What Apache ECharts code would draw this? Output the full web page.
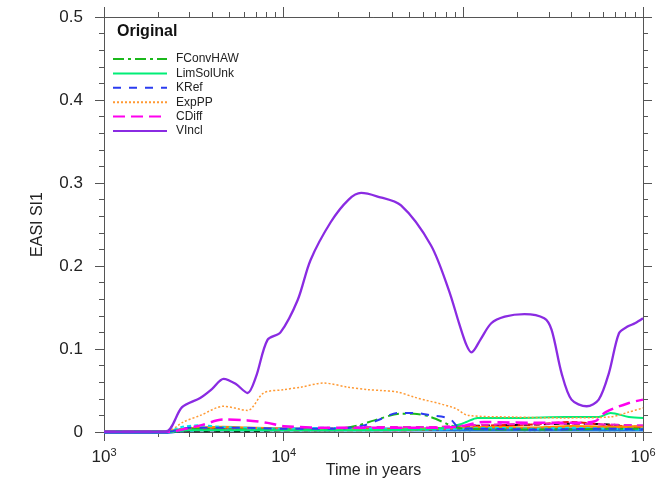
<!DOCTYPE html>
<html lang="en">
<head>
    <meta charset="UTF-8">
    <title>EASI SI1</title>
    <script src="https://cdn.jsdelivr.net/npm/echarts@6/dist/echarts.min.js"></script>
    <style>
        body { margin: 0; background: #fff; }
    </style>
</head>
<body>
    <div id="main" style="width: 658px;height: 484px;"></div>
    <script>
        // time axis (years), log scale
        let decadeTicks = [1e3, 1e4, 1e5, 1e6];
        let minorTicks = [];
        [1e3, 1e4, 1e5].forEach(d => { for (let k = 2; k < 10; k++) minorTicks.push(k * d); });

        // main series, [time, value]
        let vinclT = [1000, 2190, 2720, 3430, 4000, 4630, 5400, 6300, 7000, 8130, 9600, 11970, 14100, 18300, 23000, 27000, 33000, 45000, 66000, 83000, 95000, 104000, 111000, 125000, 143000, 170000, 219000, 282000, 310000, 352000, 400000, 486000, 567000, 646000, 735000, 820000, 902000, 1000000];
        let vinclV = [0, 0, 0.030, 0.041, 0.052, 0.064, 0.058, 0.047, 0.066, 0.111, 0.120, 0.159, 0.207, 0.253, 0.280, 0.288, 0.284, 0.273, 0.225, 0.171, 0.130, 0.105, 0.096, 0.112, 0.131, 0.139, 0.142, 0.137, 0.123, 0.071, 0.039, 0.031, 0.039, 0.071, 0.119, 0.127, 0.131, 0.137];

        let exppT = [1000, 2200, 2761, 3437, 4624, 6295, 7730, 10000, 12450, 16720, 22790, 29450, 34830, 43350, 53240, 89100, 106600, 192700, 352600, 645600, 835000, 1000000];
        let exppV = [0, 0, 0.012, 0.020, 0.031, 0.026, 0.047, 0.051, 0.054, 0.059, 0.054, 0.051, 0.050, 0.048, 0.042, 0.029, 0.020, 0.018, 0.017, 0.018, 0.024, 0.029];

        let fconvT = [1000, 2200, 3000, 5000, 10000, 20000, 26000, 32000, 45000, 53000, 66000, 85000, 100000, 200000, 400000, 700000, 1000000];
        let fconvV = [0, 0, 0.004, 0.003, 0.003, 0.004, 0.008, 0.014, 0.022, 0.022, 0.018, 0.008, 0.004, 0.003, 0.003, 0.004, 0.004];

        let limsolT = [1000, 2200, 3000, 10000, 30000, 60000, 80000, 95000, 104000, 120000, 200000, 370000, 567000, 660000, 835000, 1000000];
        let limsolV = [0, 0, 0.002, 0.002, 0.002, 0.003, 0.005, 0.009, 0.012, 0.017, 0.017, 0.018, 0.018, 0.023, 0.018, 0.017];

        let krefT = [1000, 2200, 3000, 6000, 10000, 20000, 28000, 35000, 43000, 53000, 66000, 84000, 95000, 120000, 300000, 600000, 1000000];
        let krefV = [0, 0, 0.005, 0.005, 0.004, 0.004, 0.008, 0.016, 0.023, 0.023, 0.020, 0.016, 0.005, 0.004, 0.003, 0.004, 0.003];

        let cdiffT = [1000, 2200, 3437, 4624, 6295, 8130, 10000, 20000, 50000, 90000, 130000, 250000, 400000, 540000, 620000, 835000, 1000000];
        let cdiffV = [0, 0, 0.008, 0.015, 0.014, 0.011, 0.007, 0.005, 0.005, 0.006, 0.012, 0.011, 0.011, 0.013, 0.024, 0.035, 0.039];

        // unlabelled near-zero results
        let smallT = [1000, 2200, 2700, 3400, 4600, 6300, 10000, 16700, 29500, 43000, 66000, 100000, 150000, 250000, 400000, 650000, 1000000];
        let cyanV = [0, 0, 0.006, 0.008, 0.006, 0.005, 0.004, 0.005, 0.004, 0.003, 0.003, 0.004, 0.005, 0.004, 0.005, 0.004, 0.003];
        let redV = [0, 0, 0.002, 0.003, 0.004, 0.003, 0.002, 0.002, 0.002, 0.002, 0.003, 0.006, 0.008, 0.009, 0.012, 0.008, 0.006];
        let orangeV = [0, 0, 0.003, 0.005, 0.006, 0.005, 0.004, 0.003, 0.003, 0.003, 0.004, 0.005, 0.006, 0.005, 0.007, 0.006, 0.007];
        let blueV = [0, 0, 0.002, 0.003, 0.003, 0.003, 0.003, 0.003, 0.003, 0.003, 0.003, 0.003, 0.003, 0.003, 0.003, 0.003, 0.003];
        let blackV = [0, 0, 0.001, 0.001, 0.001, 0.001, 0.002, 0.002, 0.003, 0.003, 0.004, 0.007, 0.008, 0.009, 0.010, 0.009, 0.005];
        let greenV = [0, 0, 0.003, 0.002, 0.003, 0.002, 0.003, 0.002, 0.003, 0.002, 0.003, 0.002, 0.003, 0.002, 0.003, 0.002, 0.003];
        let pinkV = [0, 0, 0.002, 0.002, 0.002, 0.003, 0.003, 0.004, 0.006, 0.006, 0.006, 0.008, 0.009, 0.010, 0.010, 0.009, 0.008];

        function zip(t, v) { return t.map((x, i) => [x, v[i]]); }

        let myChart = echarts.init(document.getElementById('main'));
        let font = 'Liberation Sans, Arial, sans-serif';
        let axisLine = { show: true, lineStyle: { color: '#555', width: 1 } };

        function xAx(pos, ticks, len, labels) {
            return {
                type: 'log', logBase: 10, min: 1000, max: 1000000, position: pos,
                gridIndex: 0, axisLine: axisLine, splitLine: { show: false },
                axisTick: { show: true, inside: false, length: len, customValues: ticks, lineStyle: { color: '#555' } },
                axisLabel: labels ? {
                    show: true, customValues: decadeTicks, margin: 15, color: '#222', fontFamily: font, fontSize: 17,
                    formatter: v => '10{s|' + Math.round(Math.log10(v)) + '}',
                    rich: { s: { fontSize: 11, verticalAlign: 'top', padding: [0, 0, 10, 0], fontFamily: font, color: '#222' } }
                } : { show: false }
            };
        }
        function yAx(pos, labels) {
            return {
                type: 'value', min: 0, max: 0.5, interval: 0.1, position: pos,
                axisLine: axisLine, splitLine: { show: false },
                axisTick: { show: true, inside: false, length: 9, lineStyle: { color: '#555' } },
                minorTick: { show: true, splitNumber: 5, length: 5, lineStyle: { color: '#555' } },
                axisLabel: labels ? { show: true, color: '#222', fontFamily: font, fontSize: 17, margin: 21, formatter: v => String(+v.toFixed(1)) } : { show: false }
            };
        }

        let xMain = xAx('bottom', decadeTicks, 9, true);
        xMain.name = 'Time in years';
        xMain.nameLocation = 'middle';
        xMain.nameGap = 31;
        xMain.nameMoveOverlap = false;
        xMain.nameTextStyle = { fontFamily: font, fontSize: 16, color: '#222' };
        let yMain = yAx('left', true);
        yMain.name = 'EASI SI1';
        yMain.nameLocation = 'middle';
        yMain.nameGap = 58;
        yMain.nameMoveOverlap = false;
        yMain.nameTextStyle = { fontFamily: font, fontSize: 16, color: '#222' };

        function line(name, data, color, type, width) {
            return {
                name: name, type: 'line', data: data, xAxisIndex: 0, yAxisIndex: 0,
                showSymbol: false, symbol: 'none', smooth: 0.3, animation: false,
                lineStyle: { color: color, width: width || 2, type: type || 'solid' },
                itemStyle: { color: color }
            };
        }

        let option = {
            animation: false,
            title: {
                text: 'Original', left: 112, top: 19,
                textStyle: { fontFamily: font, fontSize: 16, fontWeight: 'bold', color: '#111' }
            },
            legend: {
                data: ['FConvHAW', 'LimSolUnk', 'KRef', 'ExpPP', 'CDiff', 'VIncl'],
                orient: 'vertical', left: 107, top: 48, itemGap: 2.4, itemWidth: 54, itemHeight: 12,
                itemStyle: { opacity: 0 },
                textStyle: { fontFamily: font, fontSize: 12, color: '#222', padding: [0, 0, 0, 4] },
                selectedMode: false
            },
            grid: { left: 104, right: 15, top: 17, bottom: 52, containLabel: false, outerBoundsMode: 'none' },
            xAxis: [
                xMain,
                xAx('bottom', minorTicks, 5, false),
                xAx('top', decadeTicks, 10, false),
                xAx('top', minorTicks, 5, false)
            ],
            yAxis: [yMain, yAx('right', false)],
            series: [
                line('', zip(smallT, greenV), '#22cc22', [2, 3], 2),
                line('', zip(smallT, blueV), '#1f7ad8', 'solid', 4),
                line('', zip(smallT, blackV), '#111111', [6, 4], 2),
                line('', zip(smallT, redV), '#ee1111', [6, 3], 2),
                line('', zip(smallT, orangeV), '#ff8800', 'solid', 2.5),
                line('', zip(smallT, pinkV), '#ee22cc', [8, 5], 2),
                line('', zip(smallT, cyanV), '#00e5ee', [4, 3], 2),
                line('FConvHAW', zip(fconvT, fconvV), '#1bb81b', [11, 4, 3, 4], 2),
                line('LimSolUnk', zip(limsolT, limsolV), '#00ee77', 'solid', 2),
                line('KRef', zip(krefT, krefV), '#2b3cf0', [8, 8], 2),
                line('ExpPP', zip(exppT, exppV), '#ff9933', [2, 2], 1.5),
                line('CDiff', zip(cdiffT, cdiffV), '#ff00ee', [12, 6], 2.5),
                line('VIncl', zip(vinclT, vinclV), '#8a2be2', 'solid', 2.3)
            ]
        };
        myChart.setOption(option);
    </script>
</body>
</html>
